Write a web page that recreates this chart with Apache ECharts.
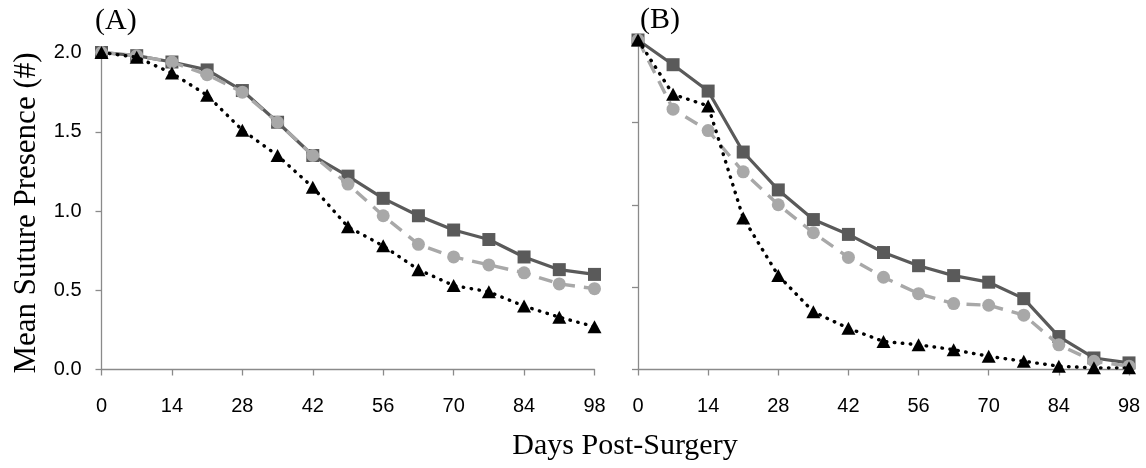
<!DOCTYPE html>
<html>
<head>
<meta charset="utf-8">
<script src="https://cdn.jsdelivr.net/npm/echarts@6/dist/echarts.min.js"></script>
<style>
  html, body { margin: 0; padding: 0; background: #fff; }
  #chart { width: 1146px; height: 468px; }
</style>
</head>
<body>
<div id="chart"></div>
<script>
// Days after surgery at which sutures were counted
const days = [0, 7, 14, 21, 28, 35, 42, 49, 56, 63, 70, 77, 84, 91, 98];
const dayTicks = ['0', '14', '28', '42', '56', '70', '84', '98'];
const presenceTicks = ['0.0', '0.5', '1.0', '1.5', '2.0'];

// Panel (A): mean number of sutures still present
const aSquare   = [2.00, 1.98, 1.94, 1.89, 1.76, 1.56, 1.35, 1.22, 1.08, 0.97, 0.88, 0.82, 0.71, 0.63, 0.60];
const aCircle   = [2.00, 1.98, 1.94, 1.86, 1.75, 1.56, 1.35, 1.17, 0.97, 0.79, 0.71, 0.66, 0.61, 0.54, 0.51];
const aTriangle = [2.00, 1.97, 1.87, 1.73, 1.51, 1.35, 1.15, 0.90, 0.78, 0.63, 0.53, 0.49, 0.40, 0.33, 0.27];

// Panel (B)
const bSquare   = [2.00, 1.85, 1.69, 1.32, 1.09, 0.91, 0.82, 0.71, 0.63, 0.57, 0.53, 0.43, 0.20, 0.07, 0.04];
const bCircle   = [2.00, 1.58, 1.45, 1.20, 1.00, 0.83, 0.68, 0.56, 0.46, 0.40, 0.39, 0.33, 0.15, 0.05, 0.02];
const bTriangle = [2.00, 1.67, 1.60, 0.92, 0.57, 0.35, 0.25, 0.17, 0.15, 0.12, 0.08, 0.05, 0.02, 0.01, 0.01];

const pairs = vals => days.map((d, i) => [d, vals[i]]);

const AXIS_GREY = '#8a8a8a';
const tickFont = { color: '#000', fontFamily: 'Liberation Sans, Arial, sans-serif', fontSize: 20 };
const serif = 'Liberation Serif, Times New Roman, serif';

function xAxisFor(gridIndex) {
  return {
    type: 'value', gridIndex, min: 0, max: 98, interval: 14,
    axisLine: { show: true, lineStyle: { color: AXIS_GREY, width: 1.3 } },
    axisTick: { show: true, inside: false, length: 6, lineStyle: { color: AXIS_GREY, width: 1.3 } },
    axisLabel: { ...tickFont, margin: 27, formatter: v => dayTicks[dayTicks.indexOf(String(v))] },
    splitLine: { show: false }
  };
}
function yAxisFor(gridIndex, showLabels) {
  return {
    type: 'value', gridIndex, min: 0, max: 2, interval: 0.5,
    axisLine: { show: true, lineStyle: { color: AXIS_GREY, width: 1.3 } },
    axisTick: { show: true, inside: false, length: 6, lineStyle: { color: AXIS_GREY, width: 1.3 } },
    axisLabel: { show: showLabels, ...tickFont, margin: 20, formatter: v => presenceTicks[Math.round(v / 0.5)] },
    splitLine: { show: false }
  };
}

function seriesFor(idx, sq, ci, tr) {
  return [
    {
      type: 'line', xAxisIndex: idx, yAxisIndex: idx, data: pairs(sq),
      symbol: 'rect', symbolSize: 13, z: 2,
      itemStyle: { color: '#5a5a5a' },
      lineStyle: { color: '#5a5a5a', width: 3.2, type: 'solid' }
    },
    {
      type: 'line', xAxisIndex: idx, yAxisIndex: idx, data: pairs(ci),
      symbol: 'circle', symbolSize: 13, z: 3,
      itemStyle: { color: '#a8a8a8' },
      lineStyle: { color: '#a8a8a8', width: 3.4, type: [14, 9] }
    },
    {
      type: 'line', xAxisIndex: idx, yAxisIndex: idx, data: pairs(tr),
      symbol: 'triangle', symbolSize: [14, 13], z: 4,
      itemStyle: { color: '#000' },
      lineStyle: { color: '#000', width: 3.4, type: [0.5, 7.5], cap: 'round' }
    }
  ];
}

const chart = echarts.init(document.getElementById('chart'), null, { renderer: 'canvas' });
chart.setOption({
  animation: false,
  backgroundColor: '#fff',
  grid: [
    { left: 101.5, top: 52.5, width: 493, height: 317 },
    { left: 638, top: 40, width: 491, height: 329.5 }
  ],
  xAxis: [xAxisFor(0), xAxisFor(1)],
  yAxis: [yAxisFor(0, true), yAxisFor(1, false)],
  series: [...seriesFor(0, aSquare, aCircle, aTriangle), ...seriesFor(1, bSquare, bCircle, bTriangle)],
  graphic: [
    { type: 'text', left: 95, top: 6, style: { text: '(A)', font: '30px ' + serif, fill: '#000' } },
    { type: 'text', left: 640, top: 5, style: { text: '(B)', font: '30px ' + serif, fill: '#000' } },
    {
      type: 'text', x: 27, y: 213, rotation: Math.PI / 2,
      style: { text: 'Mean Suture Presence (#)', font: '31px ' + serif, fill: '#000', align: 'center', verticalAlign: 'middle' }
    },
    {
      type: 'text', x: 625, y: 446,
      style: { text: 'Days Post-Surgery', font: '30px ' + serif, fill: '#000', align: 'center', verticalAlign: 'middle' }
    }
  ]
});
</script>
</body>
</html>
